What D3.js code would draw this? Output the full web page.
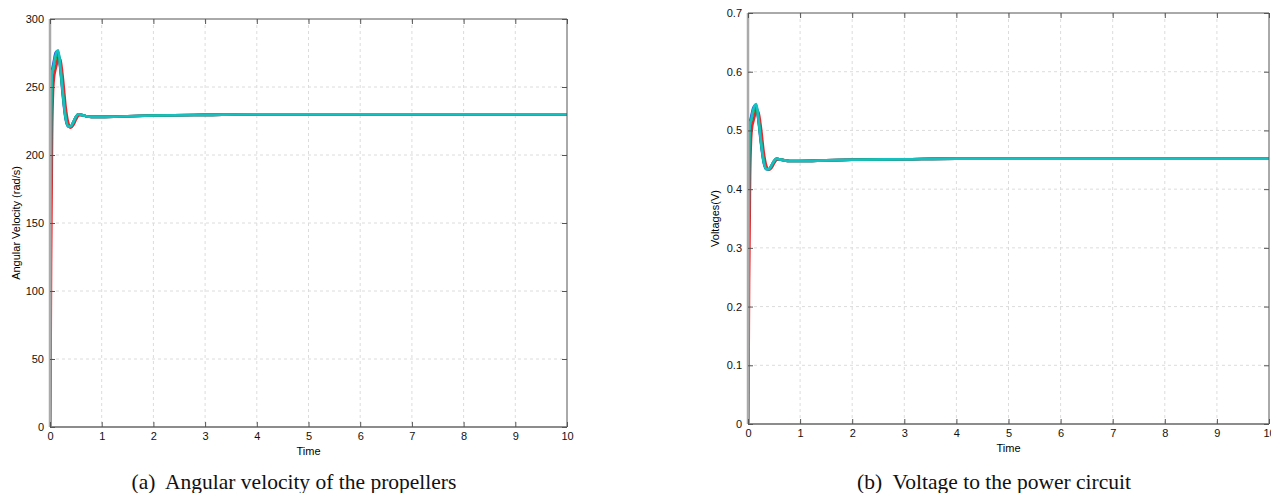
<!DOCTYPE html>
<html>
<head>
<meta charset="utf-8">
<script src="https://cdn.jsdelivr.net/npm/d3@7"></script>
<style>
  body { margin: 0; background: #fff; }
  .tick text { font-family: "Liberation Sans", Arial, sans-serif; font-size: 11px; fill: #111; }
  .axis path { display: none; }
  .axis line { stroke: #555; }
  .caption { white-space: pre; }
</style>
</head>
<body>
<script>
// time samples (s)
var time = [0, 0.01, 0.02, 0.04, 0.06, 0.08, 0.1, 0.13, 0.16, 0.2, 0.25, 0.3, 0.35, 0.4, 0.45, 0.5, 0.55, 0.6, 0.7, 0.8, 1, 1.5, 2, 3, 4, 5, 6, 7, 8, 9, 10];

// angular velocity of the four propellers (rad/s)
var omegaRed   = [0, 40, 120, 215, 248, 258, 262, 267, 272, 270, 256, 236, 224, 220, 222, 226, 229, 229.5, 228.5, 228, 228, 228.5, 229, 229.5, 230, 230, 230, 230, 230, 230, 230];
var omegaBlue  = [0, 140, 225, 262, 266, 270, 274, 276, 275, 263, 243, 227, 221, 221, 224, 228, 230, 229.5, 228.5, 228, 228, 228.5, 229, 229.5, 230, 230, 230, 230, 230, 230, 230];
var omegaGreen = [0, 130, 222, 260, 263, 266, 270, 274, 275, 264, 245, 228, 221.5, 221, 224, 228, 230, 229.5, 228.5, 228, 228, 228.5, 229, 229.5, 230, 230, 230, 230, 230, 230, 230];
var omegaCyan  = [0, 150, 230, 261, 263, 268, 272, 276, 277, 265, 245, 228, 221, 221, 224, 228, 230, 229.5, 228.5, 228, 228, 228.5, 229, 229.5, 230, 230, 230, 230, 230, 230, 230];

// voltage to the power circuit (V)
var voltRed   = [0, 0.08, 0.24, 0.422, 0.487, 0.507, 0.515, 0.525, 0.535, 0.531, 0.503, 0.464, 0.440, 0.433, 0.436, 0.444, 0.450, 0.451, 0.449, 0.448, 0.448, 0.449, 0.450, 0.451, 0.452, 0.452, 0.452, 0.452, 0.452, 0.452, 0.452];
var voltBlue  = [0, 0.28, 0.44, 0.515, 0.523, 0.531, 0.538, 0.542, 0.541, 0.517, 0.477, 0.446, 0.434, 0.434, 0.440, 0.448, 0.452, 0.451, 0.449, 0.448, 0.448, 0.449, 0.450, 0.451, 0.452, 0.452, 0.452, 0.452, 0.452, 0.452, 0.452];
var voltGreen = [0, 0.26, 0.436, 0.511, 0.517, 0.523, 0.531, 0.538, 0.540, 0.519, 0.481, 0.448, 0.435, 0.434, 0.440, 0.448, 0.452, 0.451, 0.449, 0.448, 0.448, 0.449, 0.450, 0.451, 0.452, 0.452, 0.452, 0.452, 0.452, 0.452, 0.452];
var voltCyan  = [0, 0.30, 0.452, 0.513, 0.517, 0.527, 0.535, 0.543, 0.545, 0.521, 0.481, 0.448, 0.434, 0.434, 0.440, 0.448, 0.452, 0.451, 0.449, 0.448, 0.448, 0.449, 0.450, 0.451, 0.452, 0.452, 0.452, 0.452, 0.452, 0.452, 0.452];

var xTicks = [0, 1, 2, 3, 4, 5, 6, 7, 8, 9, 10];
var omegaTicks = [0, 50, 100, 150, 200, 250, 300];
var voltTicks = [0, 0.1, 0.2, 0.3, 0.4, 0.5, 0.6, 0.7];
var colors = ["#e8262b", "#2f3fe0", "#2a9a2a", "#14c1c1"];

var svg = d3.select("body").append("svg")
  .attr("width", 1271).attr("height", 493);

function drawPanel(opt) {
  var x = d3.scaleLinear().domain([0, 10]).range([opt.left, opt.right]);
  var y = d3.scaleLinear().domain(opt.yDomain).range([opt.bottom, opt.top]);
  var g = svg.append("g");

  // dashed grid
  g.selectAll(".gx").data(xTicks.slice(1, -1)).enter().append("line")
    .attr("x1", d => x(d)).attr("x2", d => x(d))
    .attr("y1", opt.top).attr("y2", opt.bottom)
    .attr("stroke", "#dcdcdc").attr("stroke-dasharray", "3,3");
  g.selectAll(".gy").data(opt.yTicks.slice(1, -1)).enter().append("line")
    .attr("x1", opt.left).attr("x2", opt.right)
    .attr("y1", d => y(d)).attr("y2", d => y(d))
    .attr("stroke", "#dcdcdc").attr("stroke-dasharray", "3,3");

  // curves
  var clipId = "clip" + opt.id;
  svg.append("clipPath").attr("id", clipId).append("rect")
    .attr("x", opt.left).attr("y", opt.top - 2)
    .attr("width", opt.right - opt.left).attr("height", opt.bottom - opt.top + 2);
  var line = d3.line().x((d, i) => x(time[i])).y(d => y(d)).curve(d3.curveMonotoneX);
  g.append("g").attr("clip-path", "url(#" + clipId + ")")
    .selectAll("path").data(opt.series).enter().append("path")
    .attr("d", line).attr("fill", "none")
    .attr("stroke", (d, i) => colors[i]).attr("stroke-width", 2.6)
    .attr("stroke-linejoin", "round");

  // frame
  g.append("line").attr("x1", opt.left).attr("x2", opt.right).attr("y1", opt.top).attr("y2", opt.top).attr("stroke", "#555");
  g.append("line").attr("x1", opt.right).attr("x2", opt.right).attr("y1", opt.top).attr("y2", opt.bottom).attr("stroke", "#555");
  g.append("line").attr("x1", opt.left).attr("x2", opt.right).attr("y1", opt.bottom).attr("y2", opt.bottom).attr("stroke", "#666").attr("stroke-width", 1.3);
  g.append("line").attr("x1", opt.left).attr("x2", opt.left).attr("y1", opt.top).attr("y2", opt.bottom).attr("stroke", "#aaa").attr("stroke-width", 2.5);

  // axes with inward ticks
  g.append("g").attr("class", "axis").attr("transform", "translate(0," + opt.bottom + ")")
    .call(d3.axisBottom(x).tickValues(xTicks).tickSize(-5).tickPadding(5).tickFormat(d3.format("d")));
  g.append("g").attr("class", "axis").attr("transform", "translate(0," + opt.top + ")")
    .call(d3.axisTop(x).tickValues(xTicks).tickSize(-5).tickFormat(""));
  g.append("g").attr("class", "axis").attr("transform", "translate(" + opt.left + ",0)")
    .call(d3.axisLeft(y).tickValues(opt.yTicks).tickSize(-5).tickPadding(6).tickFormat(opt.yFormat));
  g.append("g").attr("class", "axis").attr("transform", "translate(" + opt.right + ",0)")
    .call(d3.axisRight(y).tickValues(opt.yTicks).tickSize(-5).tickFormat(""));

  g.append("text").attr("x", (opt.left + opt.right) / 2).attr("y", opt.bottom + 28)
    .attr("text-anchor", "middle").attr("font-family", "Liberation Sans, Arial, sans-serif")
    .attr("font-size", 11).text("Time");
  g.append("text").attr("transform", "translate(" + opt.yLabelX + "," + (opt.top + opt.bottom) / 2 + ") rotate(-90)")
    .attr("text-anchor", "middle").attr("font-family", "Liberation Sans, Arial, sans-serif")
    .attr("font-size", 11).text(opt.yLabel);

  svg.append("text").attr("class", "caption").attr("x", opt.captionX).attr("y", 489)
    .attr("text-anchor", "middle").attr("font-family", "Liberation Serif, Times New Roman, serif")
    .attr("font-size", 21.5).attr("fill", "#111").text(opt.caption);
}

drawPanel({
  id: "a", left: 50, right: 567, top: 19, bottom: 427,
  yDomain: [0, 300], yTicks: omegaTicks, yFormat: d3.format("d"),
  series: [omegaRed, omegaBlue, omegaGreen, omegaCyan],
  yLabel: "Angular Velocity (rad/s)", yLabelX: 20,
  caption: "(a)  Angular velocity of the propellers", captionX: 294
});

drawPanel({
  id: "b", left: 748, right: 1269, top: 13, bottom: 424,
  yDomain: [0, 0.7], yTicks: voltTicks, yFormat: d => d === 0 ? "0" : d3.format(".1f")(d),
  series: [voltRed, voltBlue, voltGreen, voltCyan],
  yLabel: "Voltages(V)", yLabelX: 719,
  caption: "(b)  Voltage to the power circuit", captionX: 994
});
</script>
</body>
</html>
